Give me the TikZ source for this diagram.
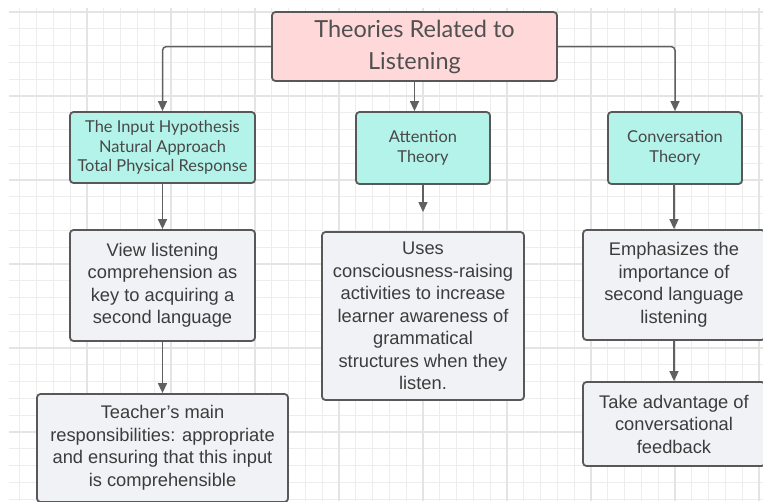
\documentclass[tikz,border=0pt]{standalone}
\usepackage{fontspec}
\setmainfont{Lato}
\newfontfamily\arialfont{Liberation Sans}
\usetikzlibrary{arrows.meta}

\definecolor{gridminor}{RGB}{237,237,237}
\definecolor{gridmajor}{RGB}{228,228,228}
\definecolor{edgegray}{RGB}{88,88,88}
\definecolor{arrowgray}{RGB}{96,96,96}
\definecolor{titlefill}{RGB}{255,217,217}
\definecolor{theoryfill}{RGB}{180,243,234}
\definecolor{notefill}{RGB}{241,242,245}
\definecolor{textgray}{RGB}{80,80,80}
\definecolor{notetext}{RGB}{60,60,60}

\tikzset{
  box/.style={draw=edgegray, line width=1.8pt, rounded corners=3.5pt, align=center, inner sep=0pt},
  titlebox/.style={box, fill=titlefill, text=textgray, font=\fontsize{23.5}{32}\selectfont},
  theorybox/.style={box, fill=theoryfill, text=textgray!90!black, font=\fontsize{16.4}{19.5}\selectfont},
  notebox/.style={box, fill=notefill, text=notetext, font=\arialfont\fontsize{18.3}{22.5}\selectfont},
  link/.style={draw=arrowgray, line width=1.5pt, rounded corners=4pt, -{Triangle[length=10pt,width=9pt]}}
}

\begin{document}
\begin{tikzpicture}[x=1pt, y=-1pt]
  \useasboundingbox (0,0) rectangle (763,501);
  \fill[white] (0,0) rectangle (763,501);

  % background grid
  \begin{scope}
    \clip (9,8) rectangle (763,501);
    \foreach \i in {0,...,45} {
      \draw[gridminor, line width=1pt] ({3+16.8*\i},0) -- ({3+16.8*\i},501);
    }
    \foreach \i in {0,...,30} {
      \draw[gridminor, line width=1pt] (0,{12+16.8*\i}) -- (763,{12+16.8*\i});
    }
    \foreach \i in {0,...,9} {
      \draw[gridmajor, line width=1.1pt] ({3+84*\i},0) -- ({3+84*\i},501);
    }
    \foreach \i in {0,...,6} {
      \draw[gridmajor, line width=1.1pt] (0,{12+84*\i}) -- (763,{12+84*\i});
    }
  \end{scope}

  \begin{scope}
    \clip (0,0) rectangle (763,501);

    % root
    \node[titlebox, minimum width=285pt, minimum height=69pt] (root) at (414.5,46.5)
      {Theories Related to\\Listening};

    % theory boxes
    \node[theorybox, minimum width=185pt, minimum height=71pt] (input) at (162.5,147.5)
      {The Input Hypothesis\\Natural Approach\\Total Physical Response};
    \node[theorybox, minimum width=134pt, minimum height=72pt] (attention) at (423,148)
      {Attention\\Theory};
    \node[theorybox, minimum width=134pt, minimum height=72pt] (conversation) at (675,148)
      {Conversation\\Theory};

    % notes
    \node[notebox, minimum width=185pt, minimum height=111pt] (view) at (162.5,285.5)
      {View listening\\comprehension as\\key to acquiring a\\second language};
    \node[notebox, minimum width=251pt, minimum height=108pt] (teacher) at (162.5,448)
      {Teacher’s main\\responsibilities: appropriate\\and ensuring that this input\\is comprehensible};
    \node[notebox, minimum width=202pt, minimum height=168pt] (uses) at (423,316)
      {Uses\\consciousness-raising\\activities to increase\\learner awareness of\\grammatical\\structures when they\\listen.};
    \node[notebox, minimum width=182pt, minimum height=110pt] (emph) at (674,285)
      {Emphasizes the\\importance of\\second language\\listening};
    \node[notebox, minimum width=182pt, minimum height=84pt] (take) at (674,424)
      {Take advantage of\\conversational\\feedback};

    % connectors
    \coordinate (usesin) at (423,212);
    \draw[link] (root.west) -| (input.north);
    \draw[link] (root.east) -| (conversation.north);
    \draw[link] (root.south) -- (root.south |- attention.north);
    \draw[link] (input.south) -- (view.north);
    \draw[link] (view.south) -- (teacher.north);
    \draw[link] (attention.south) -- (usesin);
    \draw[link] (674,184) -- (emph.north);
    \draw[link] (emph.south) -- (take.north);
  \end{scope}
\end{tikzpicture}
\end{document}
